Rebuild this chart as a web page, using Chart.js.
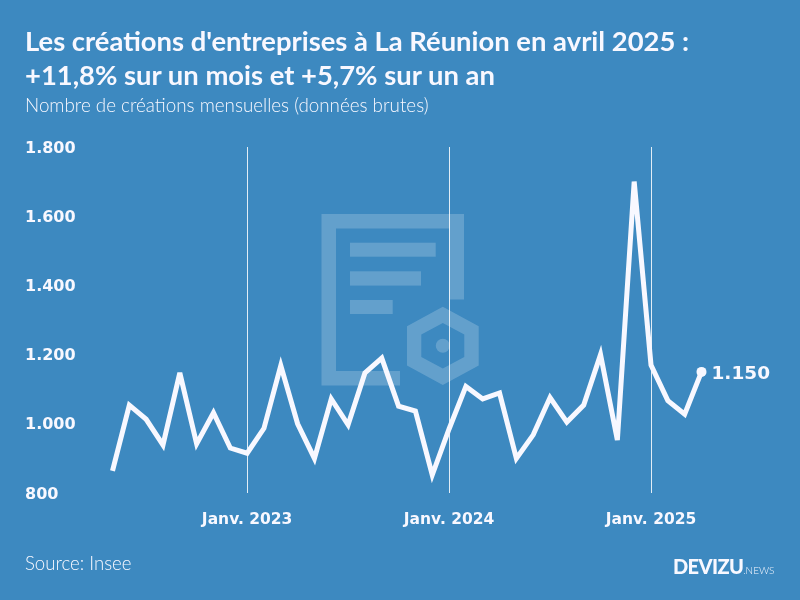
<!DOCTYPE html>
<html lang="fr"><head><meta charset="utf-8">
<script src="https://cdn.jsdelivr.net/npm/chart.js@4"></script>
<style>
html,body{margin:0;padding:0;background:#3d89c0;overflow:hidden}
#wrap{position:relative;width:800px;height:600px;background:#3d89c0;font-family:Lato,sans-serif;color:#f8f8ff}
#wm{position:absolute;left:0;top:0}
canvas{position:absolute;left:0;top:0}
.t{position:absolute;white-space:nowrap;z-index:2}
#t1,#t2{left:25px;font-weight:700;font-size:27.4px;line-height:30px}
#t1{top:26px}#t2{top:60px}
#sub{left:25px;top:95px;font-size:18.8px;line-height:20px;font-weight:300}
#src{left:25px;top:553px;font-size:18.6px;line-height:20px;font-weight:300}
#logo{left:673px;top:554px;font-size:20px;line-height:24px;font-weight:900;letter-spacing:-.6px}
#logo span{font-size:10px;font-weight:300;letter-spacing:0}
</style></head><body>
<div id="wrap">
<svg id="wm" width="800" height="600" fill="#fff" fill-opacity=".2">
<path d="M321.5 214H464V299.5H449.5V228.5H336V371H400V385.5H321.5Z"/>
<rect x="350" y="242.7" width="85.7" height="14"/>
<rect x="350" y="271.3" width="71" height="14.3"/>
<rect x="350" y="300" width="42.7" height="14"/>
<path fill-rule="evenodd" d="M442.8 306.7L478.7 326.3V365.4L442.8 385L407 365.4V326.3ZM442.8 323L421.3 334.5V357L442.8 368.5L464.3 357V334.5Z"/>
<circle cx="442.8" cy="345.7" r="7"/>
</svg>
<canvas id="c" width="800" height="600" style="width:800px;height:600px"></canvas>
<div class="t" id="t1">Les créations d'entreprises à La Réunion en avril 2025 :</div>
<div class="t" id="t2">+11,8% sur un mois et +5,7% sur un an</div>
<div class="t" id="sub">Nombre de créations mensuelles (données brutes)</div>
<div class="t" id="src">Source: Insee</div>
<div class="t" id="logo">DEVIZU<span>.NEWS</span></div>
</div>
<script>
const months = ["Mai 2022","Juin 2022","Juil. 2022","Août 2022","Sept. 2022","Oct. 2022","Nov. 2022","Déc. 2022",
"Janv. 2023","Févr. 2023","Mars 2023","Avr. 2023","Mai 2023","Juin 2023","Juil. 2023","Août 2023","Sept. 2023","Oct. 2023","Nov. 2023","Déc. 2023",
"Janv. 2024","Févr. 2024","Mars 2024","Avr. 2024","Mai 2024","Juin 2024","Juil. 2024","Août 2024","Sept. 2024","Oct. 2024","Nov. 2024","Déc. 2024",
"Janv. 2025","Févr. 2025","Mars 2025","Avr. 2025"];
const creations = [864,1054,1013,939,1147,942,1032,930,915,987,1168,1000,900,1072,997,1147,1190,1051,1037,852,985,1108,1072,1089,900,968,1076,1005,1054,1200,953,1700,1170,1067,1028,1150];
const yTicks = [800,1000,1200,1400,1600,1800];
const fmt = v => String(v).replace(/\B(?=(\d{3})+$)/g,'.');
const INK = '#f8f8ff';
const isJan = i => months[i].startsWith('Janv');
const endLabel = {id:'endLabel',
 beforeDraw(chart){
  chart.scales.y.getLabelItems(chart.chartArea).forEach(it=>{it.textOffset=1.5});
 },
 beforeDatasetsDraw(chart){chart.ctx.miterLimit=4},
 afterDatasetsDraw(chart){
  const p = chart.getDatasetMeta(0).data[creations.length-1];
  const ctx = chart.ctx; ctx.save();
  ctx.fillStyle = INK; ctx.font = 'bold 18.5px "DejaVu Sans"'; ctx.textAlign='left'; ctx.textBaseline='middle';
  ctx.fillText(fmt(creations[creations.length-1]), p.x+10, p.y+2);
  ctx.restore();
}};
new Chart(document.getElementById('c'),{
  type:'line',
  data:{labels:months,datasets:[{data:creations,borderColor:INK,borderWidth:5,tension:0,
    borderJoinStyle:'miter',borderCapStyle:'butt',clip:false,fill:false,
    pointRadius:c=>c.dataIndex===creations.length-1?5:0,pointBackgroundColor:INK,pointBorderWidth:0,pointHoverRadius:0}]},
  options:{responsive:false,animation:false,devicePixelRatio:1,events:[],
    layout:{padding:{left:25,right:98.5,top:147,bottom:0}},
    plugins:{legend:{display:false},tooltip:{enabled:false},title:{display:false}},
    scales:{
      x:{type:'category',offset:false,
        grid:{drawTicks:false,lineWidth:1,color:c=>isJan(c.index)?'rgba(255,255,255,.85)':'rgba(0,0,0,0)'},
        border:{display:false},
        afterFit(s){s.height=107},
        ticks:{autoSkip:false,maxRotation:0,minRotation:0,padding:18,color:INK,font:{family:'DejaVu Sans',size:15.5,weight:'bold'},
          callback(v,i){return isJan(i)?months[i]:''}}},
      y:{min:800,max:1800,grid:{display:false},border:{display:false},
        afterFit(s){s.width=87.5},
        afterBuildTicks(s){s.ticks=yTicks.map(v=>({value:v}))},
        ticks:{crossAlign:'far',padding:0,color:INK,font:{family:'DejaVu Sans',size:16,weight:'bold'},callback:v=>fmt(v)}}
    }
  },
  plugins:[endLabel]
});
</script></body></html>
